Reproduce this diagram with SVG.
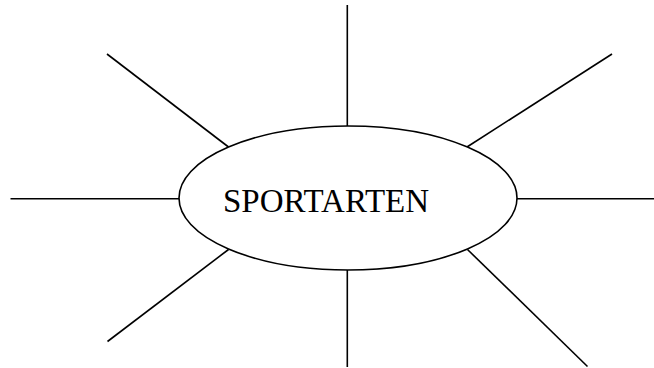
<svg xmlns="http://www.w3.org/2000/svg" width="654" height="368" viewBox="0 0 654 368">
<style>
.ln{stroke:#000;stroke-width:1.6;fill:none}
.el{stroke:#000;stroke-width:1.6;fill:#fff}
.t{font-family:"Liberation Serif","Times New Roman",serif;font-size:33px;fill:#000}
</style>
<rect width="654" height="368" fill="#fff"/>
<g id="connectors">
<line class="ln" x1="347.3" y1="5" x2="347.3" y2="126"/>
<line class="ln" x1="347.3" y1="270" x2="347.3" y2="367"/>
<line class="ln" x1="10.5" y1="198.7" x2="179" y2="198.7"/>
<line class="ln" x1="517" y1="198.7" x2="654" y2="198.7"/>
<line class="ln" x1="107" y1="54" x2="228.5" y2="147"/>
<line class="ln" x1="612" y1="54" x2="467" y2="147"/>
<line class="ln" x1="228.5" y1="249.5" x2="107.5" y2="341.5"/>
<line class="ln" x1="467.5" y1="249.5" x2="587.5" y2="366.5"/>
</g>
<g id="center">
<ellipse class="el" cx="348" cy="198" rx="169" ry="72"/>
<text class="t" x="223" y="212">SPORTARTEN</text>
</g>
</svg>
